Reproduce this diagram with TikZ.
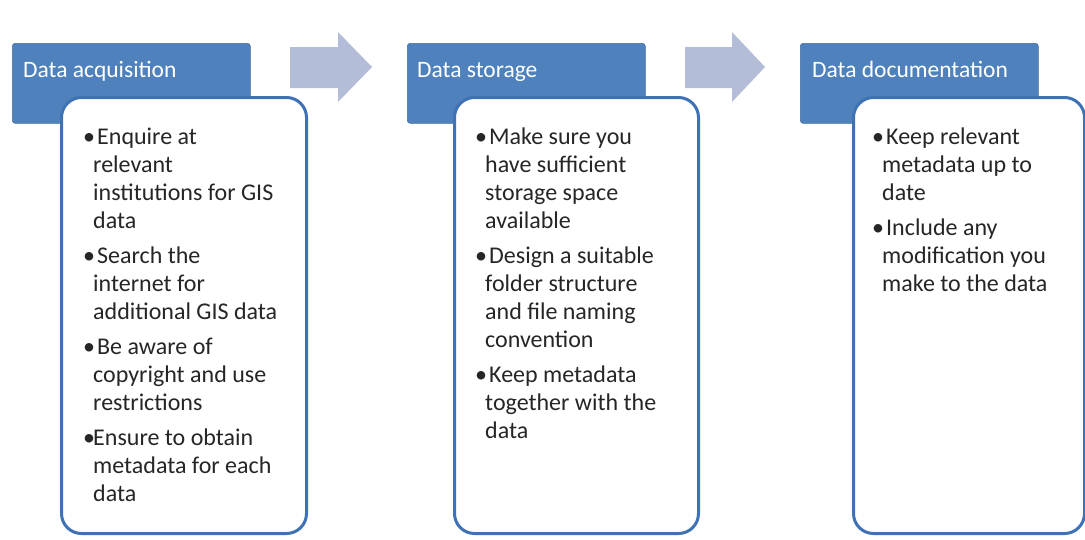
\documentclass[tikz,border=0pt]{standalone}
\usepackage{fontspec}
\setmainfont{Carlito}

\definecolor{hdrblue}{HTML}{4F81BD}
\definecolor{edgeblue}{HTML}{3F72B5}
\definecolor{flowgray}{HTML}{B3BDD8}

\newcommand{\bl}[1][14pt]{\makebox[#1][l]{\textbullet}}
\newcommand{\ind}{\hspace*{10pt}}

\tikzset{
 header/.style={fill=hdrblue, draw=hdrblue!85!black, line width=0.6pt,
   rounded corners=3pt, minimum width=238pt, minimum height=80pt,
   inner sep=0pt, anchor=north west},
 headtext/.style={text=white, font=\fontsize{23.5}{28}\selectfont,
   inner sep=0pt, anchor=base west},
 body/.style={fill=white, draw=edgeblue, line width=3pt,
   rounded corners=20pt, minimum height=436pt, inner sep=0pt,
   anchor=north west},
 bodytext/.style={font=\fontsize{24}{28}\selectfont, text=black!85,
   align=left, inner sep=0pt, anchor=north west},
 flow/.style={fill=flowgray, draw=none}
}

\begin{document}
\begin{tikzpicture}[x=1pt,y=-1pt]
\useasboundingbox[fill=white] (0,0) rectangle (1085,539);

\newcommand{\blockarrow}[3]{% [start][end of shaft][tip]
 \fill[flow] (#1,47) -- (#2,47) -- (#2,32) -- (#3,67)
   -- (#2,102) -- (#2,88) -- (#1,88) -- cycle;
}

% blue title boxes
\node[header] (acq) at (12,43) {};
\node[header] (sto) at (407,43) {};
\node[header] (doc) at (800,43) {};
\node[headtext] (acqtitle) at (23,77) {Data acquisition};
\node[headtext] (stotitle) at (417,77) {Data storage};
\node[headtext] (doctitle) at (812,77) {Data documentation};

% block arrows between the stages
\blockarrow{290}{338}{372}
\blockarrow{685}{732}{765}

% white boxes with the tasks
\node[body, minimum width=245pt] (acqbody) at (60,96) {};
\node[body, minimum width=244pt] (stobody) at (453,96) {};
\node[body, minimum width=231pt] (docbody) at (852,96) {};

\node[bodytext] (acqlist) at (83,125) {%
 \strut\bl Enquire at\\ \ind relevant\\ \ind institutions for GIS\\ \ind data\\[7pt]
 \bl Search the\\ \ind internet for\\ \ind additional GIS data\\[7pt]
 \bl Be aware of\\ \ind copyright and use\\ \ind restrictions\\[7pt]
 \bl[10pt]Ensure to obtain\\ \ind metadata for each\\ \ind data};

\node[bodytext] (stolist) at (475,125) {%
 \strut\bl Make sure you\\ \ind have sufficient\\ \ind storage space\\ \ind available\\[7pt]
 \bl Design a suitable\\ \ind folder structure\\ \ind and file naming\\ \ind convention\\[7pt]
 \bl Keep metadata\\ \ind together with the\\ \ind data};

\node[bodytext] (doclist) at (872,125) {%
 \strut\bl Keep relevant\\ \ind metadata up to\\ \ind date\\[7pt]
 \bl Include any\\ \ind modification you\\ \ind make to the data};

\end{tikzpicture}
\end{document}
